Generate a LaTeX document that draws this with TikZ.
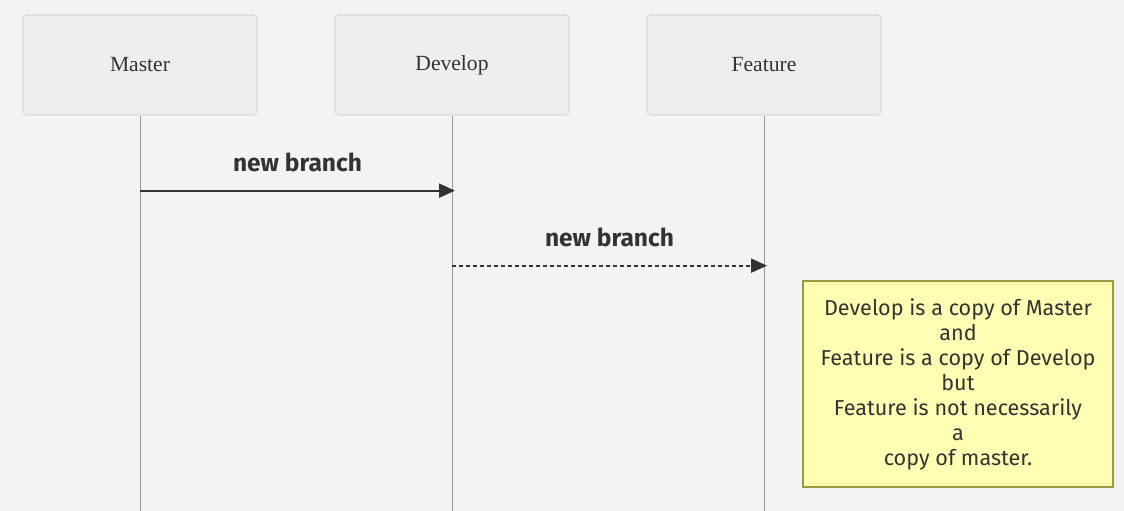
\documentclass[tikz,border=0pt]{standalone}
\usepackage{fontspec}
\setmainfont{Liberation Serif}
\newfontfamily\labelfont{Fira Sans}
\usetikzlibrary{arrows.meta, positioning, calc}
\definecolor{bgcol}{HTML}{F3F3F3}
\definecolor{actorfill}{HTML}{EEEEEE}
\definecolor{actorline}{HTML}{D9D9D9}
\definecolor{lifeline}{HTML}{999999}
\definecolor{inkcol}{HTML}{333333}
\definecolor{notefill}{HTML}{FFFFB3}
\definecolor{noteline}{HTML}{9C9C3E}
\begin{document}
\begin{tikzpicture}
[
    x = 1pt, y = 1pt,
    actor/.style = {rectangle, draw = actorline, line width = 1.3pt, fill = actorfill, rounded corners = 4pt, minimum width = 234pt, minimum height = 100pt, text = inkcol, font = \fontsize{21.6}{26}\selectfont},
    life/.style = {draw = lifeline, line width = 1pt},
    msg/.style = {draw = inkcol, line width = 2pt, -{Triangle[length = 16pt, width = 14pt]}},
    msglabel/.style = {text = inkcol, font = \labelfont\bfseries\fontsize{24.5}{28}\selectfont},
    note/.style = {rectangle, draw = noteline, line width = 1.3pt, fill = notefill, minimum width = 310pt, minimum height = 206pt, align = center, text = inkcol, font = \labelfont\fontsize{21.6}{25}\selectfont}
]
    \fill[bgcol] (0, 0) rectangle (1124, -511);
    \useasboundingbox (0, 0) rectangle (1124, -511);

    \node[actor] (master) at (140, -65) {Master};
    \node[actor] (develop) at (452, -65) {Develop};
    \node[actor] (feature) at (764, -65) {Feature};

    % lifelines
    \coordinate (masterend) at (140, -511);
    \coordinate (developend) at (452, -511);
    \coordinate (featureend) at (764, -511);
    \draw[life] (master) -- (masterend);
    \draw[life] (develop) -- (developend);
    \draw[life] (feature) -- (featureend);

    % messages
    \coordinate (m1) at ([yshift = -75pt]master.south);
    \coordinate (d1) at ([xshift = 3pt]m1 -| develop.south);
    \draw[msg] (m1) -- (d1);
    \node[msglabel] (label1) at ([yshift = 28pt]$(m1)!0.5!(d1)$) {new branch};

    \coordinate (d2) at ([yshift = -150pt]develop.south);
    \coordinate (f2) at ([xshift = 3pt]d2 -| feature.south);
    \draw[msg, dash pattern = on 4pt off 3pt] (d2) -- (f2);
    \node[msglabel] (label2) at ([yshift = 28pt]$(d2)!0.5!(f2)$) {new branch};

    \node[note] (remark) at (958, -384) {Develop is a copy of Master\\and\\Feature is a copy of Develop\\but\\Feature is not necessarily\\a\\copy of master.};
\end{tikzpicture}
\end{document}
